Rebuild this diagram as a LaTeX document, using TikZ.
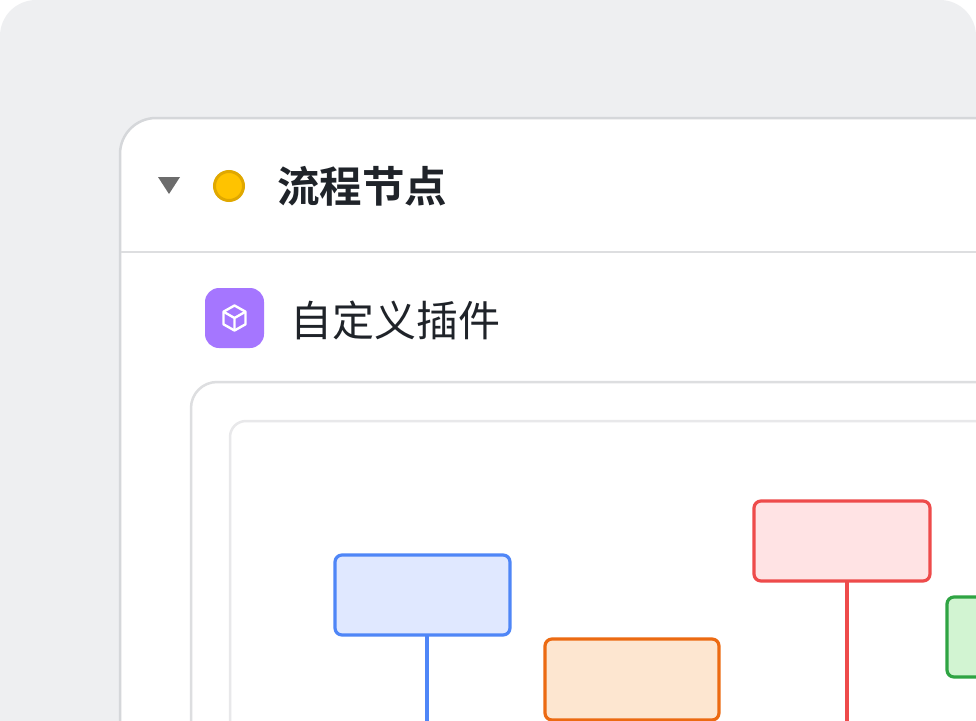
\documentclass[tikz,border=0pt]{standalone}
\usepackage{fontspec}
\newfontfamily\cjk{Noto Sans CJK SC}
\newfontfamily\cjkbold{Noto Sans CJK SC Bold}
\definecolor{bgGray}{HTML}{EEEFF1}
\definecolor{cardLine}{HTML}{D5D7DA}
\definecolor{panelLine}{HTML}{DDDEE0}
\definecolor{innerLine}{HTML}{E8E8EA}
\definecolor{textDark}{HTML}{1F2329}
\definecolor{iconPurple}{HTML}{A576FF}
\definecolor{blueFill}{HTML}{E0E8FF}\definecolor{blueLine}{HTML}{4F86F7}
\definecolor{orangeFill}{HTML}{FDE6D0}\definecolor{orangeLine}{HTML}{EC6A12}
\definecolor{redFill}{HTML}{FFE3E4}\definecolor{redLine}{HTML}{EE4B4B}
\definecolor{greenFill}{HTML}{D2F4D2}\definecolor{greenLine}{HTML}{2FA443}
\tikzset{
  flowbox/.style={draw=#1Line, fill=#1Fill, line width=3.2pt, rounded corners=7pt},
  stem/.style={draw=#1Line, line width=3.2pt},
}
\begin{document}
\begin{tikzpicture}[x=1pt,y=-1pt]
  \useasboundingbox (0,0) rectangle (976,720);
  \clip (0,0) rectangle (976,720);

  % background
  \fill[bgGray, rounded corners=36pt] (0,0) rectangle (976,800);

  % card
  \draw[cardLine, fill=white, line width=2.5pt, rounded corners=36pt] (120,118) rectangle (1100,900);
  \draw[panelLine, line width=2.5pt] (121,252) -- (976,252);
  \fill[gray!85!black] (158,177) -- (180,177) -- (169,194) -- cycle;
  \draw[fill={rgb,255:red,255;green,195;blue,0}, draw={rgb,255:red,224;green,168;blue,0}, line width=3pt] (229,186) circle (14.5);
  \node[anchor=west, inner sep=0pt, text=textDark, font=\cjkbold\fontsize{42.5}{42.5}\selectfont] (title) at (277,186) {流程节点};

  % plugin row
  \fill[iconPurple, rounded corners=14pt] (205,288) rectangle (264,348);
  \begin{scope}[shift={(234.5,318)}, white, line width=2.4pt, line join=round]
    \draw (0,-12.5) -- (11,-6.3) -- (11,6.3) -- (0,12.5) -- (-11,6.3) -- (-11,-6.3) -- cycle;
    \draw (-11,-6.3) -- (0,0) -- (11,-6.3) (0,0) -- (0,12.5);
  \end{scope}
  \node[anchor=west, inner sep=0pt, text=textDark, font=\cjk\fontsize{42}{42}\selectfont] (plugin) at (290,320) {自定义插件};

  % panels
  \draw[panelLine, fill=white, line width=2.5pt, rounded corners=26pt] (191,382) rectangle (1100,900);
  \draw[innerLine, line width=2.5pt, rounded corners=16pt] (230,421) rectangle (1100,900);

  % flow boxes
  \draw[flowbox=blue] (335,555) rectangle (510,635);
  \draw[stem=blue] (427,635) -- (427,730);
  \draw[flowbox=orange] (545,639) rectangle (719,720);
  \draw[flowbox=red] (754,501) rectangle (930,581);
  \draw[stem=red] (847,581) -- (847,730);
  \draw[flowbox=green] (947,597) rectangle (1010,677);
\end{tikzpicture}
\end{document}
